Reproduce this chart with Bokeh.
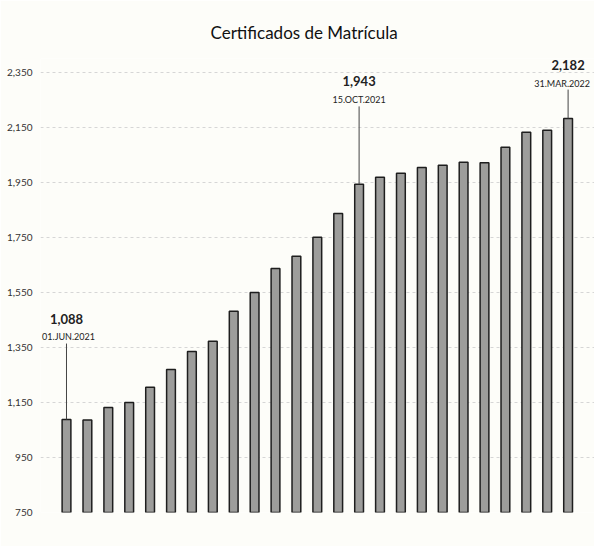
from bokeh.plotting import figure
from bokeh.models import Range1d, NumeralTickFormatter, FixedTicker, ColumnDataSource, LabelSet
from bokeh.core.properties import value
from bokeh.embed import file_html
from bokeh.resources import INLINE

# ---- data ----
title_text = "Certificados de Matrícula"
counts = [1088, 1086, 1132, 1150, 1205, 1270, 1335, 1372, 1481, 1550, 1637, 1681, 1750,
          1837, 1943, 1968, 1983, 2004, 2012, 2023, 2021, 2077, 2132, 2139, 2182]
annotated_bars = [0, 14, 24]
annotated_dates = ["01.JUN.2021", "15.OCT.2021", "31.MAR.2022"]
y_ticks = [750, 950, 1150, 1350, 1550, 1750, 1950, 2150, 2350]

FONT = "Lato"
x = [i + 1 for i in range(len(counts))]

p = figure(width=594, height=546, output_backend="svg", toolbar_location=None,
           x_range=Range1d(-0.244, 26.263), y_range=Range1d(750, 2400),
           min_border_left=40, min_border_right=0, min_border_top=58, min_border_bottom=34,
           background_fill_color="#fdfdf9", border_fill_color="#fdfdf9")
p.outline_line_color = None

p.title.text = title_text
p.title.align = "left"
p.title.offset = 170
p.title.text_font = FONT
p.title.text_font_size = "17px"
p.title.text_font_style = "normal"
p.title.text_color = "#111111"
p.title.standoff = 32

p.xaxis.visible = False
p.xgrid.grid_line_color = None
p.ygrid.grid_line_color = "#d6d6d6"
p.ygrid.grid_line_dash = "3 3"
p.ygrid.grid_line_width = 1

ya = p.yaxis[0]
ya.ticker = FixedTicker(ticks=y_ticks)
ya.formatter = NumeralTickFormatter(format="0,0")
ya.axis_line_color = None
ya.major_tick_line_color = None
ya.minor_tick_line_color = None
ya.major_label_text_font = FONT
ya.major_label_text_font_size = "10px"
ya.major_label_text_color = "#333333"
ya.major_label_standoff = 2

src = ColumnDataSource(dict(x=x, top=counts))
p.vbar(x="x", top="top", bottom=750, width=0.42, source=src,
       fill_color="#9d9d9b", line_color="#1e1e1e", line_width=1.5)

# annotation offsets (data units above bar top): line top, date label, value label
offsets = {0: (276, 302, 367), 14: (283, 309, 374), 24: (105, 127, 196)}
date_shift = {0: 2, 14: 0, 24: -6}   # horizontal nudge of date labels, px
ax, line_y0, line_y1, date_y, val_y, val_txt, dx = [], [], [], [], [], [], []
for idx in annotated_bars:
    v = counts[idx]
    lo, do, vo = offsets[idx]
    ax.append(x[idx])
    line_y0.append(v)
    line_y1.append(v + lo)
    date_y.append(v + do)
    val_y.append(v + vo)
    val_txt.append(f"{v:,}")
    dx.append(date_shift[idx])

p.segment(x0=ax, y0=line_y0, x1=ax, y1=line_y1, line_color="#444444", line_width=1)

ann = ColumnDataSource(dict(x=ax, date_y=date_y, val_y=val_y, dates=annotated_dates,
                            vals=val_txt, dx=dx))
p.add_layout(LabelSet(x="x", y="date_y", text="dates", source=ann, x_offset="dx",
                      text_font=value(FONT), text_font_size=value("9px"), text_align="center",
                      text_baseline="middle", text_color="#222222"))
p.add_layout(LabelSet(x="x", y="val_y", text="vals", source=ann, text_font=value(FONT),
                      text_font_size=value("13px"), text_font_style="bold", text_align="center",
                      text_baseline="middle", text_color="#222222"))

open("out.html", "w").write(file_html(p, INLINE))
